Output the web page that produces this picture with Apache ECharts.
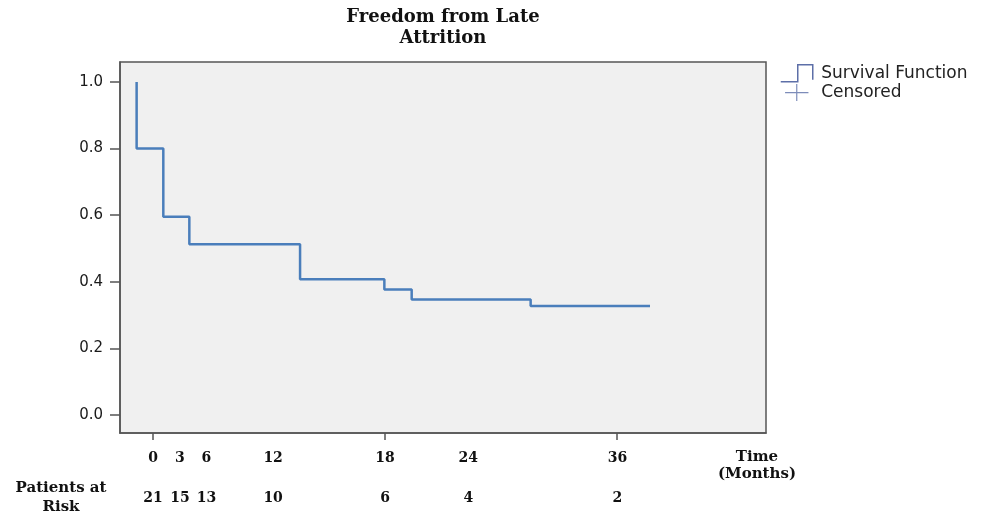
<!DOCTYPE html>
<html>
<head>
<meta charset="utf-8">
<script src="https://cdn.jsdelivr.net/npm/echarts@6/dist/echarts.min.js"></script>
<style>html,body{margin:0;padding:0;background:#fff}#c{width:986px;height:513px}</style>
</head>
<body>
<div id="c"></div>
<script>
// ---- data ----
var stepTimes = [-1.27, -1.27, 0.80, 2.82, 11.41, 17.95, 20.07, 29.30, 38.56]; // months on the plotted axis
var survival  = [1.0, 0.80, 0.595, 0.513, 0.408, 0.377, 0.347, 0.327, 0.327];
var censoredTimes = [];
var censoredValues = [];
var monthLabels = ['0', '3', '6', '12', '18', '24', '36'];
var atRisk      = ['21', '15', '13', '10', '6', '4', '2'];
var labelSlots  = [0, 2.09, 4.15, 9.32, 18, 24.46, 36.03]; // where the hand-set risk-table columns sit on the axis
var xTicks = [0, 18, 36];
var yTicks = [0, 0.2, 0.4, 0.6, 0.8, 1.0];

var survPts = stepTimes.map(function (t, i) { return [t, survival[i]]; });
var censPts = censoredTimes.map(function (t, i) { return [t, censoredValues[i]]; });

function slotText(list) {
  return function (v) {
    var best = 0, d = Infinity;
    for (var k = 0; k < labelSlots.length; k++) {
      var dd = Math.abs(labelSlots[k] - v);
      if (dd < d) { d = dd; best = k; }
    }
    return list[best];
  };
}

var serif = 'DejaVu Serif';
var sans = 'DejaVu Sans';
var chart = echarts.init(document.getElementById('c'), null, {renderer: 'canvas'});
chart.setOption({
  animation: false,
  backgroundColor: '#ffffff',
  title: [
    {text: 'Freedom from Late\nAttrition', left: 443, top: 7, padding: 0, textAlign: 'center',
     textStyle: {fontFamily: serif, fontWeight: 'bold', fontSize: 18, lineHeight: 21, color: '#111', align: 'center'}},
    {text: 'Time\n(Months)', left: 757, top: 449, padding: 0, textAlign: 'center',
     textStyle: {fontFamily: serif, fontWeight: 'bold', fontSize: 15, lineHeight: 17, color: '#111', align: 'center'}},
    {text: 'Patients at\nRisk', left: 61, top: 479, padding: 0, textAlign: 'center',
     textStyle: {fontFamily: serif, fontWeight: 'bold', fontSize: 15, lineHeight: 19, color: '#111', align: 'center'}}
  ],
  legend: {
    orient: 'vertical', left: 780, top: 64, padding: 0,
    itemWidth: 33, itemHeight: 17, itemGap: 1,
    textStyle: {fontFamily: sans, fontSize: 17, color: '#222', padding: [0, 0, 0, 3]},
    data: [
      {name: 'Survival Function', icon: 'path://M0,17L17,17L17,0L32,0L32,15',
       itemStyle: {color: 'rgba(0,0,0,0)', borderColor: '#5d6fa8', borderWidth: 1.5}},
      {name: 'Censored', icon: 'path://M5,9L27,9M16,1L16,17',
       itemStyle: {color: 'rgba(0,0,0,0)', borderColor: '#5d6fa8', borderWidth: 1.2}}
    ]
  },
  grid: {left: 120, top: 62, right: 220, bottom: 80, show: true,
         backgroundColor: '#f0f0f0', borderColor: '#555', borderWidth: 1.5},
  xAxis: [
    {type: 'value', min: -2.56, max: 47.56, position: 'bottom',
     axisLine: {show: true, onZero: false, lineStyle: {color: '#555', width: 1.5}},
     axisTick: {show: true, customValues: xTicks, length: 7, lineStyle: {color: '#555', width: 1.5}},
     axisLabel: {show: true, customValues: labelSlots, margin: 18, fontFamily: serif, fontWeight: 'bold', fontSize: 14, color: '#111',
                 formatter: slotText(monthLabels)},
     splitLine: {show: false}},
    {type: 'value', min: -2.56, max: 47.56, position: 'bottom', offset: 40,
     axisLine: {show: false, onZero: false}, axisTick: {show: false},
     axisLabel: {show: true, customValues: labelSlots, margin: 18, fontFamily: serif, fontWeight: 'bold', fontSize: 14, color: '#111',
                 formatter: slotText(atRisk)},
     splitLine: {show: false}}
  ],
  yAxis: {type: 'value', min: -0.054, max: 1.06,
    axisLine: {show: true, onZero: false, lineStyle: {color: '#555', width: 1.5}},
    axisTick: {show: true, customValues: yTicks, length: 10, lineStyle: {color: '#555', width: 1.5}},
    axisLabel: {customValues: yTicks, margin: 17, fontFamily: sans, fontSize: 15, color: '#1a1a1a',
                formatter: function (v) { return v.toFixed(1); }},
    splitLine: {show: false}},
  series: [
    {name: 'Survival Function', type: 'line', step: 'end', data: survPts, xAxisIndex: 0,
     showSymbol: false, symbol: 'none', lineStyle: {color: '#4a7ebb', width: 2.5}, itemStyle: {color: '#4a7ebb'}},
    {name: 'Censored', type: 'scatter', data: censPts, xAxisIndex: 0,
     symbol: 'path://M0,10L20,10M10,0L10,20', itemStyle: {color: '#5d6fa8'}}
  ]
});
</script>
</body>
</html>
